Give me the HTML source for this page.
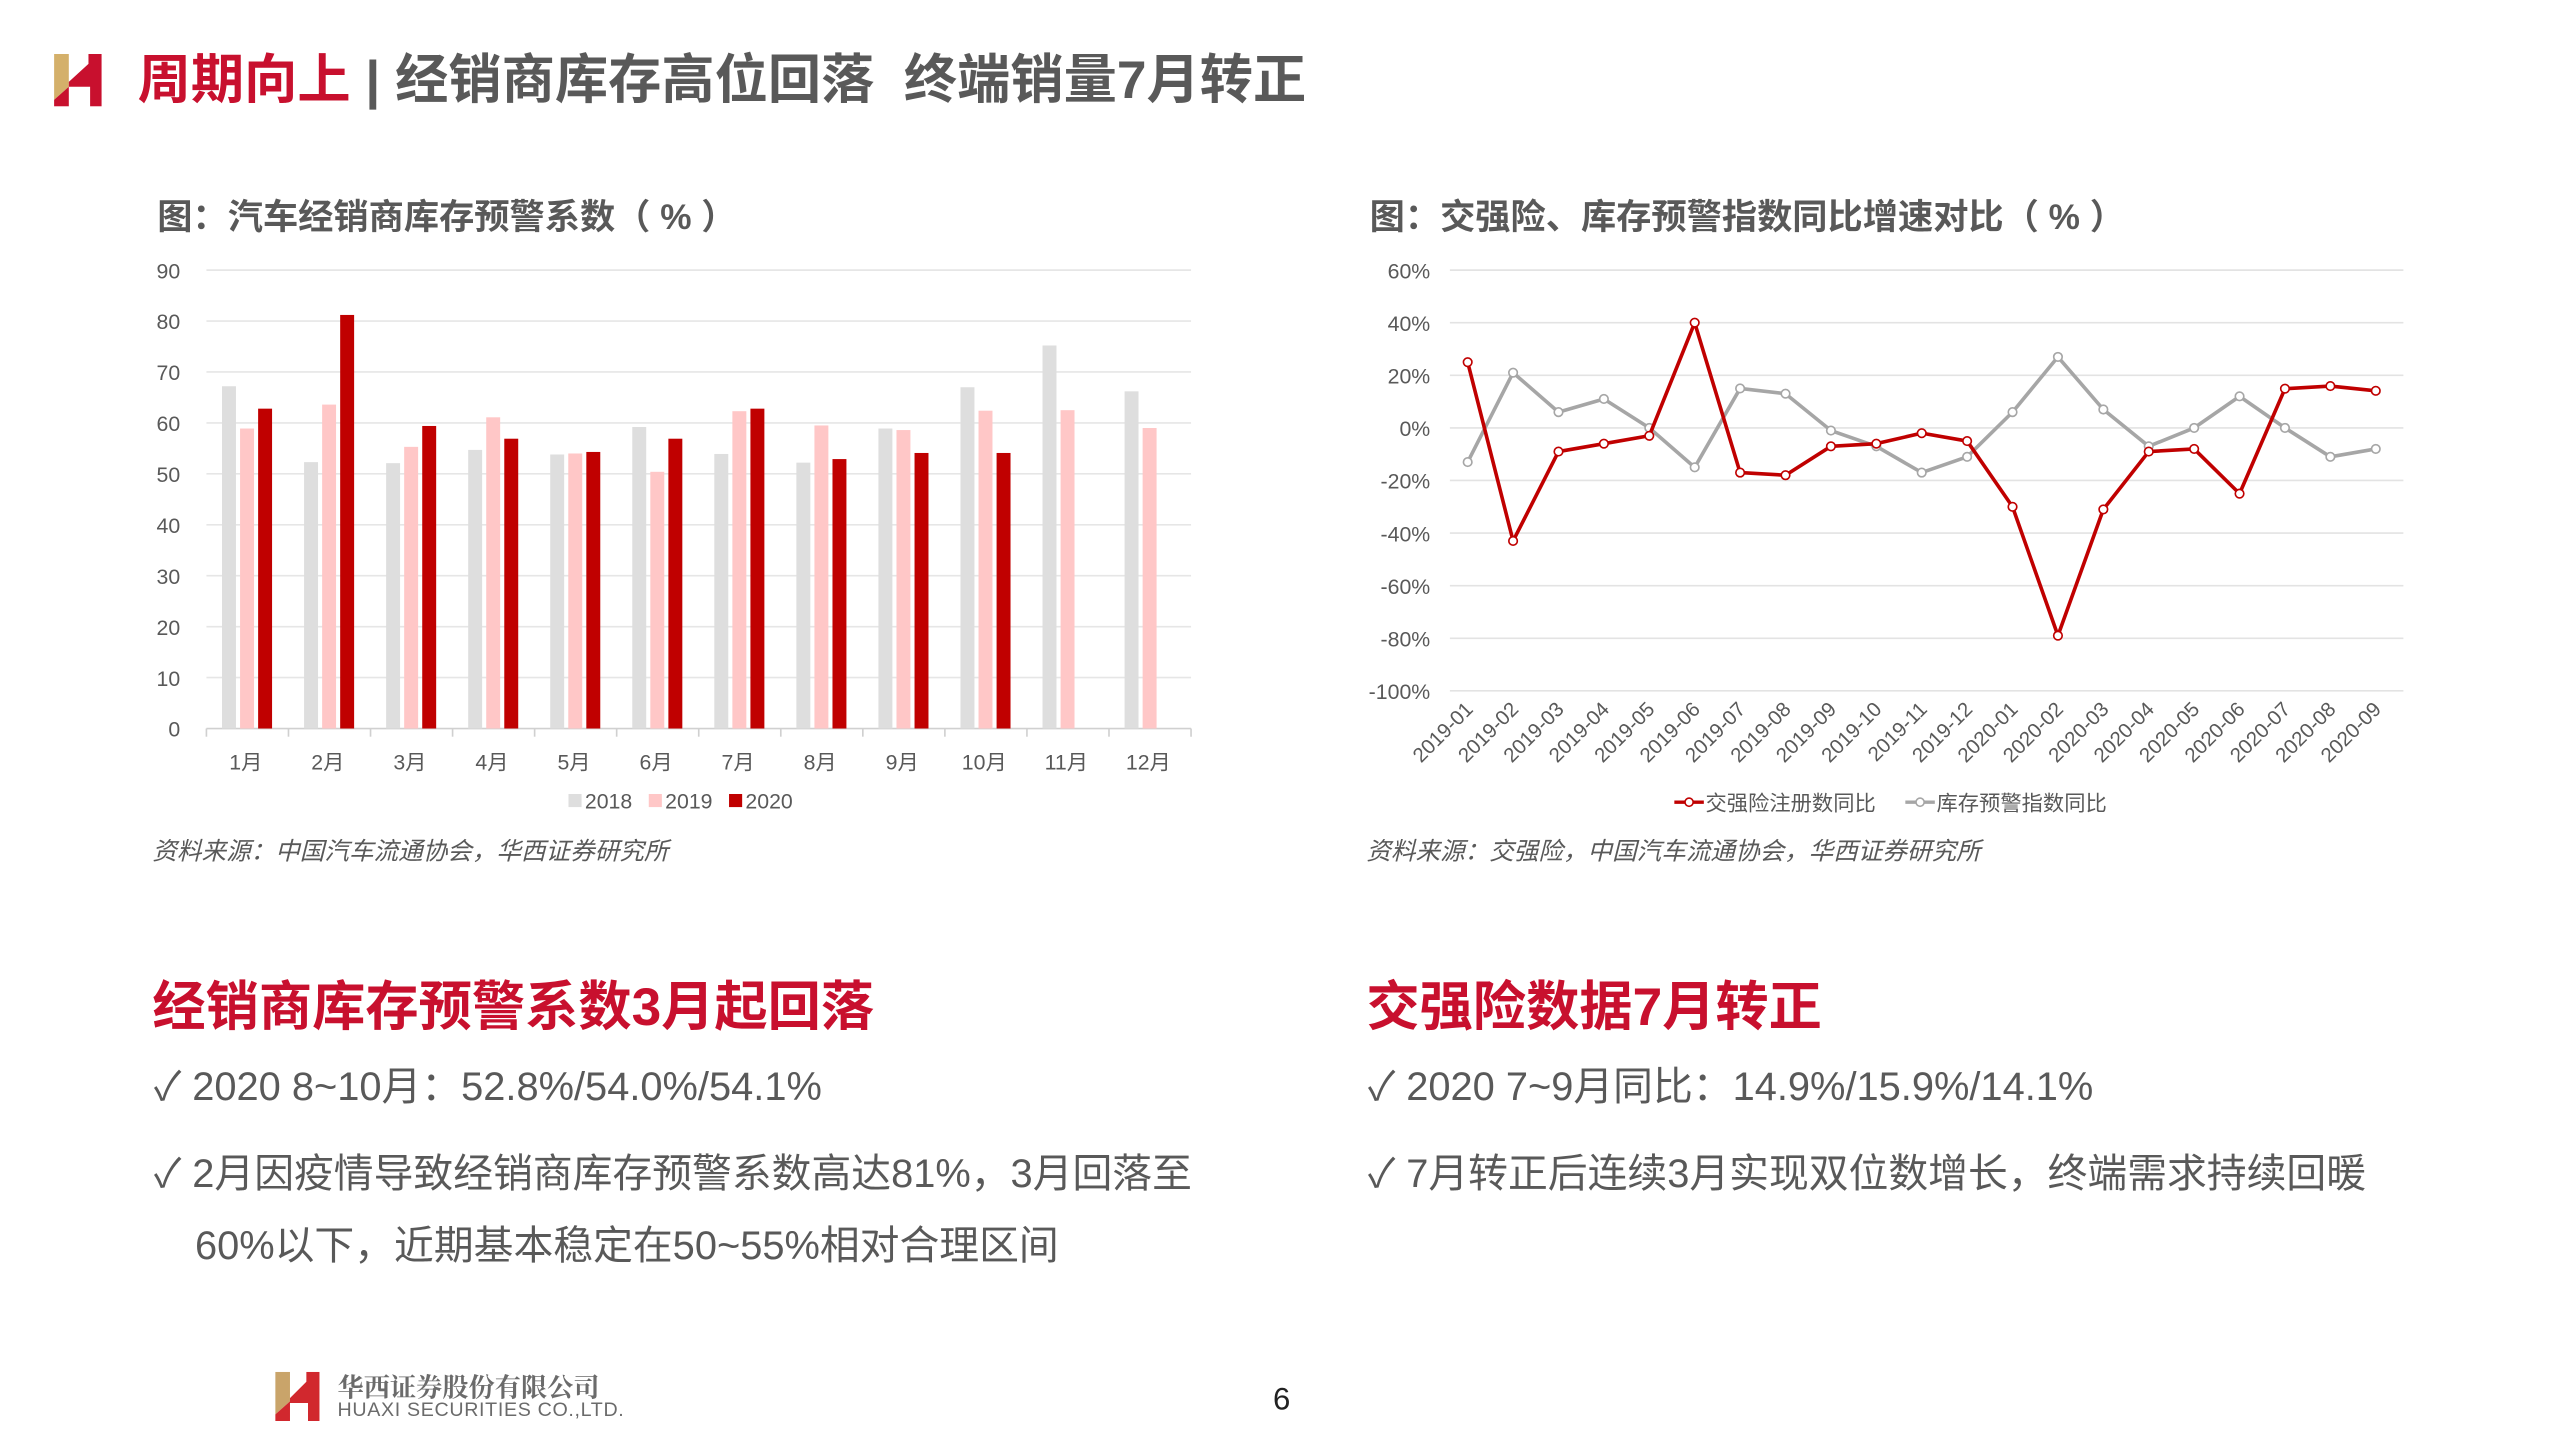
<!DOCTYPE html>
<html><head><meta charset="utf-8">
<style>
html,body{margin:0;padding:0;background:#fff;overflow:hidden}
body{width:2559px;height:1439px}
#page{position:absolute;left:0;top:0;width:1562px;height:879px;transform:scale(1.6383,1.6371);transform-origin:0 0;font-family:"Liberation Sans","Noto Sans CJK SC",sans-serif;color:#595959}
.abs{position:absolute;white-space:nowrap}
.ct{font-size:21.5px;font-weight:bold;color:#595959}
.src{font-size:15px;font-style:italic;color:#595959}
.h2{font-size:32.5px;font-weight:bold;color:#c8102e}
.bl{font-size:24.3px;color:#595959}
svg text{font-family:"Liberation Sans","Noto Sans CJK SC",sans-serif;fill:#595959}
</style></head><body>
<div id="page">
  <svg class="abs" style="left:33px;top:33px" width="30" height="32">
    <polygon points="0,0 9,0 9,20 0,28" fill="#d4b06a"/>
    <polygon points="0,28 9,20 9,17 21,6 21,0 29,0 29,32 22,32 22,20 9,20 9,32 0,32" fill="#c8102e"/>
  </svg>
  <div class="abs" style="left:84px;top:23px;font-size:32.5px;font-weight:bold"><span style="color:#c8102e">周期向上</span><span style="color:#595959"> | 经销商库存高位回落&nbsp;&nbsp;终端销量7月转正</span></div>

  <div class="abs ct" style="left:96px;top:116px">图：汽车经销商库存预警系数（ % ）</div>
  <div class="abs ct" style="left:836px;top:116px">图：交强险、库存预警指数同比增速对比（ % ）</div>

  <svg id="bar" class="abs" style="left:0;top:149px" width="760" height="360"></svg>
  <svg id="line" class="abs" style="left:800px;top:149px" width="700" height="360"></svg>

  <div class="abs src" style="left:93px;top:509px">资料来源：中国汽车流通协会，华西证券研究所</div>
  <div class="abs src" style="left:834px;top:509px">资料来源：交强险，中国汽车流通协会，华西证券研究所</div>

  <div class="abs h2" style="left:93px;top:589px">经销商库存预警系数3月起回落</div>
  <div class="abs h2" style="left:834px;top:589px">交强险数据7月转正</div>

  <div class="abs bl" style="left:94px;top:644px">✓ 2020 8~10月：52.8%/54.0%/54.1%</div>
  <div class="abs bl" style="left:94px;top:697px">✓ 2月因疫情导致经销商库存预警系数高达81%，3月回落至</div>
  <div class="abs bl" style="left:119px;top:741px">60%以下，近期基本稳定在50~55%相对合理区间</div>
  <div class="abs bl" style="left:835px;top:644px">✓ 2020 7~9月同比：14.9%/15.9%/14.1%</div>
  <div class="abs bl" style="left:835px;top:697px">✓ 7月转正后连续3月实现双位数增长，终端需求持续回暖</div>

  <svg class="abs" style="left:168px;top:838px" width="28" height="30">
    <polygon points="0,0 9,0 9,18 0,26" fill="#c9a46a"/>
    <polygon points="0,26 9,18 9,16 19,6 19,0 27,0 27,30 20,30 20,19 9,19 9,30 0,30" fill="#d1282e"/>
  </svg>
  <div class="abs" style="left:206px;top:835px;font-size:16px;font-weight:bold;color:#6b6b6b;font-family:'Liberation Serif','Noto Serif CJK SC',serif">华西证券股份有限公司</div>
  <div class="abs" style="left:206px;top:854px;font-size:12px;color:#6b6b6b;letter-spacing:0.4px">HUAXI SECURITIES CO.,LTD.</div>
  <div class="abs" style="left:777px;top:845px;font-size:19px;color:#222">6</div>
</div>
<script>
const NS="http://www.w3.org/2000/svg";
function mk(p,tag,at,txt){const e=document.createElementNS(NS,tag);for(const k in at)e.setAttribute(k,at[k]);if(txt!==undefined)e.textContent=txt;p.appendChild(e);return e;}

// ---- bar chart data ----
const barMonths=["1月","2月","3月","4月","5月","6月","7月","8月","9月","10月","11月","12月"];
const s2018=[67.2,52.3,52.1,54.7,53.8,59.2,53.9,52.2,58.9,67.0,75.2,66.2];
const s2019=[58.9,63.6,55.3,61.1,54.0,50.4,62.3,59.5,58.6,62.4,62.5,59.0];
const s2020=[62.8,81.2,59.4,56.9,54.3,56.9,62.8,52.9,54.1,54.1,null,null];
const barTicks=[0,10,20,30,40,50,60,70,80,90];
const barSeriesNames=["2018","2019","2020"];

// ---- line chart data ----
const lineCats=["2019-01","2019-02","2019-03","2019-04","2019-05","2019-06","2019-07","2019-08","2019-09","2019-10","2019-11","2019-12","2020-01","2020-02","2020-03","2020-04","2020-05","2020-06","2020-07","2020-08","2020-09"];
const insurYoy=[25,-43,-9,-6,-3,40,-17,-18,-7,-6,-2,-5,-30,-79,-31,-9,-8,-25,14.9,15.9,14.1];
const invYoy=[-13,21,6,11,0,-15,15,13,-1,-7,-17,-11,6,27,7,-7,0,12,0,-11,-8];
const lineTicks=[60,40,20,0,-20,-40,-60,-80,-100];
const lineSeriesNames=["交强险注册数同比","库存预警指数同比"];

(function(){
  const svg=document.getElementById('bar');
  const L=126,R=727,T=16,B=296;
  const y=v=>B-(v/90)*(B-T);
  const cw=(R-L)/barMonths.length;
  const x=i=>L+i*cw;
  barTicks.forEach(t=>{
    const g=mk(svg,'line',{x1:L,x2:R,y1:y(t),y2:y(t),stroke:t===0?'#d0d0d0':'#e6e6e6','stroke-width':1});
    
    
    const tx=mk(svg,'text',{x:110,y:y(t)+5,'text-anchor':'end','font-size':13},String(t));
    
    
  });
  const cols=['#dedede','#ffc7c7','#c00000'];
  const series=[s2018,s2019,s2020];
  barMonths.forEach((m,i)=>{
    const tk=mk(svg,'line',{x1:x(i),x2:x(i),y1:B,y2:B+5,stroke:'#d0d0d0'});
    
    
    series.forEach((s,k)=>{
      if(s[i]==null)return;
      const bx=x(i)+cw*0.19+k*cw*0.22;
      const r=mk(svg,'rect',{x:bx,y:y(s[i]),width:cw*0.17,height:B-y(s[i]),fill:cols[k]});
      
      
    });
    const lt=mk(svg,'text',{x:x(i)+cw*0.48,y:B+25,'text-anchor':'middle','font-size':13},m);
    
    
  });
  mk(svg,'line',{x1:R,x2:R,y1:B,y2:B+5,stroke:'#d0d0d0'});
  let lx=347;
  barSeriesNames.forEach((n,k)=>{
    const r=mk(svg,'rect',{x:lx,y:336,width:8,height:8,fill:cols[k]});
    
    
    const t=mk(svg,'text',{x:lx+10,y:345,'font-size':13},n);
    
    
    lx+=49;
  });
})();

(function(){
  const svg=document.getElementById('line');
  const L=85,R=667,T=16,B=273;
  const y=v=>T+(60-v)/160*(B-T);
  const cw=(R-L)/lineCats.length;
  const x=i=>L+cw*(i+0.5)-3;
  lineTicks.forEach(t=>{
    const g=mk(svg,'line',{x1:L,x2:R,y1:y(t),y2:y(t),stroke:'#e3e3e3','stroke-width':1});
    
    
    const tx=mk(svg,'text',{x:73,y:y(t)+5,'text-anchor':'end','font-size':13},t+'%');
    
    
  });
  lineCats.forEach((c,i)=>{
    const t=mk(svg,'text',{x:x(i)+4,y:B+12,'text-anchor':'end','font-size':12.5,transform:`rotate(-45 ${x(i)+4} ${B+12})`},c);
    
    
  });
  function draw(data,col,name){
    const p=mk(svg,'polyline',{points:data.map((v,i)=>x(i)+','+y(v)).join(' '),fill:'none',stroke:col,'stroke-width':2.2,'stroke-linejoin':'round'});
    
    
    data.forEach((v,i)=>{
      const c=mk(svg,'circle',{cx:x(i),cy:y(v),r:2.6,fill:'#fff',stroke:col,'stroke-width':1});
      
      
    });
  }
  draw(invYoy,'#a6a6a6','inventory-yoy');
  draw(insurYoy,'#c00000','insurance-yoy');
  const legs=[[222,'#c00000'],[363,'#a6a6a6']];
  lineSeriesNames.forEach((n,k)=>{
    const lx=legs[k][0],col=legs[k][1];
    const l=mk(svg,'line',{x1:lx,x2:lx+18,y1:341,y2:341,stroke:col,'stroke-width':2});
    
    
    mk(svg,'circle',{cx:lx+9,cy:341,r:2.5,fill:'#fff',stroke:col});
    const t=mk(svg,'text',{x:lx+19,y:346,'font-size':13},n);
    
    
  });
})();
</script>
</body></html>
